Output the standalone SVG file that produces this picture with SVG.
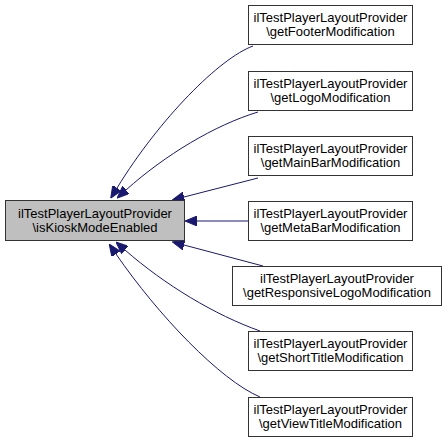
<svg xmlns="http://www.w3.org/2000/svg" width="448" height="444" viewBox="0 0 448 444">
<style>
.box{fill:#ffffff;stroke:#333333;stroke-width:1}
.cur{fill:#bfbfbf;stroke:#333333;stroke-width:1}
text{font-family:"Liberation Sans",Arial,Helvetica,sans-serif;font-size:13px;fill:#000000;text-anchor:middle}
.edge{fill:none;stroke:#191970;stroke-width:1;marker-end:url(#ah)}
</style>
<defs>
<marker id="ah" viewBox="0 0 12 10" refX="0" refY="5" markerWidth="12" markerHeight="10" markerUnits="userSpaceOnUse" orient="auto">
<path d="M0,0 L12,5 L0,10 z" fill="#191970" stroke="#191970" stroke-width="1"/>
</marker>
</defs>
<rect width="448" height="444" fill="#ffffff"/>
<g id="connectors">
<path class="edge" d="M253,46 C220,58 160,118 117,188"/>
<path class="edge" d="M258,112 C215,125 165,155 126,190"/>
<path class="edge" d="M258,178 L184,197"/>
<path class="edge" d="M248,221 L197,221"/>
<path class="edge" d="M263,266 L184,245"/>
<path class="edge" d="M260,331 C215,315 165,285 125,250"/>
<path class="edge" d="M260,397 C220,380 158,315 116,254"/>
</g>
<g id="node_isKioskModeEnabled">
<rect class="cur" x="5.5" y="200.5" width="179" height="40"/>
<text x="95" y="218">ilTestPlayerLayoutProvider</text>
<text x="95" y="232">\isKioskModeEnabled</text>
</g>
<g id="node_getFooterModification">
<rect class="box" x="248.5" y="5.5" width="164" height="39"/>
<text x="330.5" y="22">ilTestPlayerLayoutProvider</text>
<text x="330.5" y="36">\getFooterModification</text>
</g>
<g id="node_getLogoModification">
<rect class="box" x="248.5" y="71.5" width="164" height="39"/>
<text x="330.5" y="88">ilTestPlayerLayoutProvider</text>
<text x="330.5" y="102">\getLogoModification</text>
</g>
<g id="node_getMainBarModification">
<rect class="box" x="248.5" y="136.5" width="164" height="39"/>
<text x="330.5" y="153">ilTestPlayerLayoutProvider</text>
<text x="330.5" y="167">\getMainBarModification</text>
</g>
<g id="node_getMetaBarModification">
<rect class="box" x="248.5" y="201.5" width="164" height="39"/>
<text x="330.5" y="218">ilTestPlayerLayoutProvider</text>
<text x="330.5" y="232">\getMetaBarModification</text>
</g>
<g id="node_getResponsiveLogoModification">
<rect class="box" x="232.5" y="266.5" width="209" height="39"/>
<text x="337" y="283">ilTestPlayerLayoutProvider</text>
<text x="337" y="297">\getResponsiveLogoModification</text>
</g>
<g id="node_getShortTitleModification">
<rect class="box" x="248.5" y="331.5" width="164" height="39"/>
<text x="330.5" y="348">ilTestPlayerLayoutProvider</text>
<text x="330.5" y="362">\getShortTitleModification</text>
</g>
<g id="node_getViewTitleModification">
<rect class="box" x="248.5" y="397.5" width="164" height="39"/>
<text x="330.5" y="414">ilTestPlayerLayoutProvider</text>
<text x="330.5" y="428">\getViewTitleModification</text>
</g>
</svg>
